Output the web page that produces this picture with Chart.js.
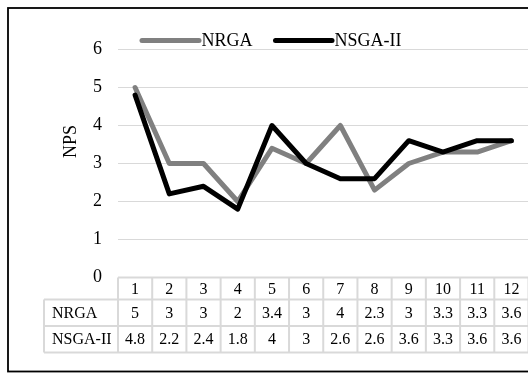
<!DOCTYPE html>
<html>
<head>
<meta charset="utf-8">
<script src="https://cdn.jsdelivr.net/npm/chart.js@4/dist/chart.umd.min.js"></script>
<style>
  html, body { margin: 0; padding: 0; background: #fff; overflow: hidden; }
  #wrap { width: 540px; height: 374px; }
</style>
</head>
<body>
<div id="wrap"><canvas id="c" width="540" height="374"></canvas></div>
<script>
// Run index and NPS values for both algorithms
const categories = ['1', '2', '3', '4', '5', '6', '7', '8', '9', '10', '11', '12'];
const nrgaValues = [5, 3, 3, 2, 3.4, 3, 4, 2.3, 3, 3.3, 3.3, 3.6];
const nsgaValues = [4.8, 2.2, 2.4, 1.8, 4, 3, 2.6, 2.6, 3.6, 3.3, 3.6, 3.6];
const seriesNames = ['NRGA', 'NSGA-II'];
const yMin = 0, yMax = 6, yStep = 1;
const yTitle = 'NPS';

const SERIF = '"Liberation Serif", "Times New Roman", serif';
const GRID = '#d9d9d9';

// Frame, legend, axis title and the data table under the plot
const decorations = {
  id: 'decorations',
  afterDraw(chart) {
    const ctx = chart.ctx;
    const x = chart.scales.x, y = chart.scales.y;
    const n = categories.length;
    const colW = (x.right - x.left) / n;
    const top = y.getPixelForValue(yMin);
    const rowEdges = [top, top + 22, top + 48.5, top + 75];
    const labelLeft = 44;

    ctx.save();

    // table borders
    ctx.strokeStyle = GRID;
    ctx.lineWidth = 2;
    ctx.beginPath();
    ctx.moveTo(x.left, rowEdges[0]); ctx.lineTo(x.right + 2, rowEdges[0]);
    for (let r = 1; r < rowEdges.length; r++) {
      ctx.moveTo(labelLeft, rowEdges[r]); ctx.lineTo(x.right + 2, rowEdges[r]);
    }
    ctx.moveTo(labelLeft, rowEdges[1]); ctx.lineTo(labelLeft, rowEdges[3]);
    for (let i = 0; i <= n; i++) {
      const xe = x.left + i * colW;
      ctx.moveTo(xe, rowEdges[0]);
      ctx.lineTo(xe, rowEdges[3]);
    }
    ctx.stroke();

    // table text
    ctx.fillStyle = '#000';
    ctx.font = '16px ' + SERIF;
    ctx.textBaseline = 'middle';
    ctx.textAlign = 'center';
    const rows = [nrgaValues, nsgaValues];
    categories.forEach((c, i) => {
      const cx = x.getPixelForValue(i);
      ctx.fillText(c, cx, (rowEdges[0] + rowEdges[1]) / 2 + 1);
      rows.forEach((vals, r) => {
        ctx.fillText(String(vals[i]), cx, (rowEdges[r + 1] + rowEdges[r + 2]) / 2 + 1);
      });
    });
    ctx.textAlign = 'left';
    seriesNames.forEach((name, r) => {
      ctx.fillText(name, labelLeft + 8, (rowEdges[r + 1] + rowEdges[r + 2]) / 2 + 1);
    });

    // axis title
    ctx.save();
    ctx.font = '18px ' + SERIF;
    ctx.translate(70.5, 141.5);
    ctx.rotate(-Math.PI / 2);
    ctx.textAlign = 'center';
    ctx.textBaseline = 'middle';
    ctx.fillText(yTitle, 0, 1);
    ctx.restore();

    // legend
    const legend = [
      { x0: 142, x1: 199 },
      { x0: 275.5, x1: 332 }
    ];
    ctx.font = '18px ' + SERIF;
    ctx.textAlign = 'left';
    ctx.textBaseline = 'middle';
    chart.data.datasets.forEach((ds, i) => {
      const L = legend[i];
      ctx.strokeStyle = ds.borderColor;
      ctx.lineWidth = 5;
      ctx.lineCap = 'round';
      ctx.beginPath();
      ctx.moveTo(L.x0, 40.5); ctx.lineTo(L.x1, 40.5);
      ctx.stroke();
      ctx.fillStyle = '#000';
      ctx.fillText(ds.label, L.x1 + 2.5, 41.5);
    });

    // outer frame
    ctx.strokeStyle = '#000';
    ctx.lineWidth = 1.8;
    ctx.lineCap = 'butt';
    ctx.strokeRect(8, 8, 600, 363.5);

    ctx.restore();
  }
};

new Chart(document.getElementById('c'), {
  type: 'line',
  data: {
    labels: categories,
    datasets: [
      {
        label: seriesNames[0],
        data: nrgaValues,
        borderColor: '#808080',
        backgroundColor: '#808080',
        borderWidth: 5,
        borderCapStyle: 'round',
        borderJoinStyle: 'round',
        pointRadius: 0,
        tension: 0,
        order: 1
      },
      {
        label: seriesNames[1],
        data: nsgaValues,
        borderColor: '#000000',
        backgroundColor: '#000000',
        borderWidth: 5,
        borderCapStyle: 'round',
        borderJoinStyle: 'round',
        pointRadius: 0,
        tension: 0,
        order: 0
      }
    ]
  },
  options: {
    responsive: false,
    animation: false,
    devicePixelRatio: 1,
    layout: { padding: { left: 0, top: 49.5, right: 11.5, bottom: 96.5 } },
    plugins: { legend: { display: false }, tooltip: { enabled: false } },
    scales: {
      x: {
        type: 'category',
        offset: true,
        display: false
      },
      y: {
        min: yMin,
        max: yMax,
        afterFit(s) { s.width = 118; },
        ticks: {
          stepSize: yStep,
          padding: 16,
          color: '#000',
          font: { family: SERIF, size: 18 }
        },
        grid: { color: GRID, lineWidth: 1, drawTicks: false },
        border: { display: false }
      }
    }
  },
  plugins: [decorations]
});
</script>
</body>
</html>
